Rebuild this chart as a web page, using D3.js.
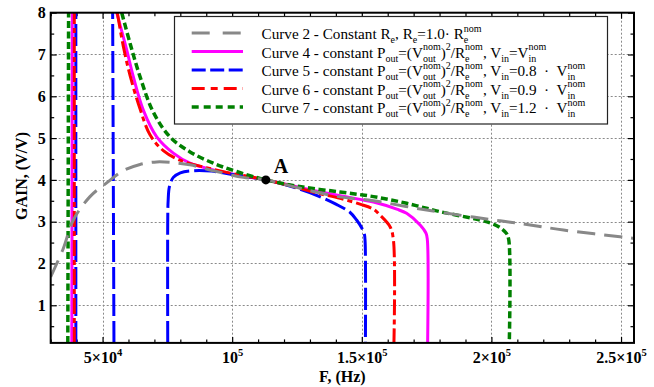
<!DOCTYPE html>
<html>
<head>
<meta charset="utf-8">
<script src="https://cdn.jsdelivr.net/npm/d3@7/dist/d3.min.js"></script>
<style>
  body { margin: 0; background: #fff; }
  svg { display: block; }
  text { font-family: "Liberation Serif", "Times New Roman", serif; fill: #000; }
</style>
</head>
<body>
<svg id="chart" width="654" height="387"></svg>
<script>
// ---- axis ticks ----
const xMajor = [50000, 100000, 150000, 200000, 250000];
const xTickBase = ["5×10", "10", "1.5×10", "2×10", "2.5×10"];
const xTickExp = ["4", "5", "5", "5", "5"];
const yMajor = [1, 2, 3, 4, 5, 6, 7, 8];

// ---- curves: [frequency (Hz), gain (V/V)] ----
// Curve 2: constant Re
const curve2 = [[30000,1.68],[34860,2.36],[38720,3.04],[45160,3.60],[51600,3.93],[58000,4.22],
  [64450,4.37],[70900,4.43],[76000,4.42],[83700,4.36],[94000,4.20],[104300,4.06],[113000,4.00],
  [126200,3.80],[141000,3.60],[154500,3.50],[173800,3.29],[193000,3.11],[203300,3.02],
  [211000,2.96],[227800,2.80],[255000,2.60]];
// Curve 4: Vin = Vin_nom
const curve4Low = [[38150,0.1],[38330,8.0]];
const curve4High = [[55460,8.0],[59320,7.11],[61870,6.47],[65730,5.67],[70900,5.03],[77300,4.64],
  [83740,4.40],[92730,4.24],[101750,4.12],[113000,4.00],[126000,3.82],[141700,3.62],[154500,3.47],
  [163500,3.30],[167300,3.20],[172500,2.92],[174800,2.72],[175300,2.56],[175400,0.1]];
// Curve 5: Vin = 0.8 Vin_nom
const curve5Low = [[39700,0.1],[39700,8.0]];
const curve5Mid = [[54400,0.1],[53900,8.0]];
const curve5High = [[75140,0.1],[75140,3.0],[75300,3.5],[75800,3.84],[77300,4.06],[80000,4.17],
  [85000,4.22],[92000,4.21],[100000,4.13],[107000,4.06],[113000,4.00],[126000,3.78],[133000,3.62],
  [140000,3.42],[145500,3.22],[148000,3.04],[150000,2.85],[151000,2.70],[151300,2.5],[151400,0.1]];
// Curve 6: Vin = 0.9 Vin_nom
const curve6Low = [[39100,0.1],[39100,8.0]];
const curve6High = [[55700,8.0],[58000,7.2],[60600,6.5],[64450,5.7],[68300,5.08],[73440,4.70],
  [79880,4.47],[87600,4.33],[97900,4.18],[113000,4.00],[126000,3.80],[133000,3.68],[141600,3.56],
  [149300,3.42],[154500,3.30],[157000,3.16],[160900,2.88],[162200,2.56],[162400,0.1]];
// Curve 7: Vin = 1.2 Vin_nom
const curve7Low = [[36600,0.1],[36900,8.0]];
const curve7High = [[57400,8.0],[60600,7.27],[64450,6.47],[69580,5.62],[76000,5.03],[83740,4.67],
  [92700,4.40],[101750,4.20],[113000,4.00],[126000,3.84],[141600,3.71],[154500,3.60],[167300,3.44],
  [180200,3.24],[195600,3.04],[200000,2.96],[203300,2.86],[205800,2.72],[206700,2.56],[206900,0.1]];
// Operating point A
const pointA = [113000, 4.0];

const padL = 50.7, padR = 634, padT = 12.7, padB = 342.9;

const svg = d3.select("#chart");
const x = d3.scaleLinear().domain([30000, 255000]).range([padL, padR]);
const y = d3.scaleLinear().domain([0.1, 8]).range([padB, padT]);

const xMinor = d3.range(30000, 255001, 10000).filter(v => !xMajor.includes(v));
const yMinor = d3.range(0.5, 8, 1);

// grid
const grid = svg.append("g").attr("stroke", "#8a8a8a").attr("stroke-width", 1).attr("stroke-dasharray", "2,2");
grid.selectAll(".gx").data(xMajor).join("line")
  .attr("x1", d => Math.round(x(d)) + 0.5).attr("x2", d => Math.round(x(d)) + 0.5)
  .attr("y1", padT).attr("y2", padB);
grid.selectAll(".gy").data(yMajor.filter(v => v < 8)).join("line")
  .attr("y1", d => Math.round(y(d)) + 0.5).attr("y2", d => Math.round(y(d)) + 0.5)
  .attr("x1", padL).attr("x2", padR);

// axes (ticks point inward)
function styleAxis(g) {
  g.select(".domain").remove();
  g.selectAll(".tick line").attr("stroke", "#000").attr("stroke-width", 1.2);
}
const axB = svg.append("g").attr("transform", `translate(0,${padB})`)
  .call(d3.axisBottom(x).tickValues(xMajor).tickSize(-6).tickPadding(9).tickFormat(""))
  .call(styleAxis);
axB.selectAll(".tick text").each(function(d, i) {
  const t = d3.select(this).attr("font-size", 16).attr("font-weight", "bold")
    .attr("font-family", "Liberation Serif, serif");
  t.append("tspan").text(xTickBase[i]);
  t.append("tspan").attr("font-size", 10.5).attr("dy", -7).text(xTickExp[i]);
});
svg.append("g").attr("transform", `translate(0,${padB})`)
  .call(d3.axisBottom(x).tickValues(xMinor).tickSize(-3.5).tickFormat("")).call(styleAxis);
svg.append("g").attr("transform", `translate(0,${padT})`)
  .call(d3.axisTop(x).tickValues(xMajor).tickSize(-6).tickFormat("")).call(styleAxis);
svg.append("g").attr("transform", `translate(0,${padT})`)
  .call(d3.axisTop(x).tickValues(xMinor).tickSize(-3.5).tickFormat("")).call(styleAxis);

svg.append("g").attr("transform", `translate(${padL},0)`)
  .call(d3.axisLeft(y).tickValues(yMajor).tickSize(-6).tickPadding(5).tickFormat(d3.format("d")))
  .call(styleAxis)
  .call(g => g.selectAll(".tick text").attr("font-size", 16).attr("font-weight", "bold")
    .attr("font-family", "Liberation Serif, serif"));
svg.append("g").attr("transform", `translate(${padL},0)`)
  .call(d3.axisLeft(y).tickValues(yMinor).tickSize(-3.5).tickFormat("")).call(styleAxis);
svg.append("g").attr("transform", `translate(${padR},0)`)
  .call(d3.axisRight(y).tickValues(yMajor).tickSize(-6).tickFormat("")).call(styleAxis);
svg.append("g").attr("transform", `translate(${padR},0)`)
  .call(d3.axisRight(y).tickValues(yMinor).tickSize(-3.5).tickFormat("")).call(styleAxis);

// axis titles
svg.append("text").attr("x", (padL + padR) / 2).attr("y", 382)
  .attr("text-anchor", "middle").attr("font-size", 16).attr("font-weight", "bold").text("F, (Hz)");
svg.append("text").attr("transform", `translate(27,176) rotate(-90)`)
  .attr("text-anchor", "middle").attr("font-size", 16).attr("font-weight", "bold").text("GAIN, (V/V)");

// curves
svg.append("clipPath").attr("id", "plotClip").append("rect")
  .attr("x", padL).attr("y", padT).attr("width", padR - padL).attr("height", padB - padT);
const line = d3.line().x(d => x(d[0])).y(d => y(d[1])).curve(d3.curveCatmullRom.alpha(0.5));
const styles = {
  c2: { color: "#888888", width: 3, dash: "18,9", legendDash: "18,13" },
  c4: { color: "#ff00ff", width: 3, dash: null, legendDash: null },
  c5: { color: "#0000ff", width: 3, dash: "22,5", legendDash: "14,4.5" },
  c6: { color: "#ff0000", width: 3, dash: "16,4,5,4", legendDash: "13,6,7,6" },
  c7: { color: "#008000", width: 3.5, dash: "7,3.5", legendDash: "7,5" }
};
const series = [
  { key: "c4", data: curve4Low }, { key: "c4", data: curve4High },
  { key: "c5", data: curve5Low }, { key: "c5", data: curve5Mid }, { key: "c5", data: curve5High },
  { key: "c6", data: curve6Low }, { key: "c6", data: curve6High },
  { key: "c7", data: curve7Low }, { key: "c7", data: curve7High },
  { key: "c2", data: curve2 }
];
const plot = svg.append("g").attr("clip-path", "url(#plotClip)");
plot.selectAll("path").data(series).join("path")
  .attr("d", d => line(d.data))
  .attr("fill", "none")
  .attr("stroke", d => styles[d.key].color)
  .attr("stroke-width", d => styles[d.key].width)
  .attr("stroke-dasharray", d => styles[d.key].dash);

// frame
svg.append("rect").attr("x", padL).attr("y", padT).attr("width", padR - padL).attr("height", padB - padT)
  .attr("fill", "none").attr("stroke", "#000").attr("stroke-width", 2);

// point A
svg.append("circle").attr("cx", x(pointA[0])).attr("cy", y(pointA[1])).attr("r", 4.5).attr("fill", "#000");
svg.append("text").attr("x", x(pointA[0]) + 8).attr("y", y(pointA[1]) - 7)
  .attr("font-size", 20).attr("font-weight", "bold").text("A");

// legend
const legendKeys = ["c2", "c4", "c5", "c6", "c7"];
const legendText = [
  [["n","Curve 2 - Constant R"],["sub","e"],["n",", R"],["sub","e"],["n","=1.0· R"],["both","nom","e"]],
  [["n","Curve 4 - constant P"],["sub","out"],["n","=(V"],["both","nom","out"],["n",")"],["sup","2"],["n","/R"],["both","nom","e"],["n",", V"],["sub","in"],["n","=V"],["both","nom","in"]],
  [["n","Curve 5 - constant P"],["sub","out"],["n","=(V"],["both","nom","out"],["n",")"],["sup","2"],["n","/R"],["both","nom","e"],["n",", V"],["sub","in"],["n","=0.8  ·  V"],["both","nom","in"]],
  [["n","Curve 6 - constant P"],["sub","out"],["n","=(V"],["both","nom","out"],["n",")"],["sup","2"],["n","/R"],["both","nom","e"],["n",", V"],["sub","in"],["n","=0.9  ·  V"],["both","nom","in"]],
  [["n","Curve 7 - constant P"],["sub","out"],["n","=(V"],["both","nom","out"],["n",")"],["sup","2"],["n","/R"],["both","nom","e"],["n",", V"],["sub","in"],["n","=1.2  ·  V"],["both","nom","in"]]
];
const lg = svg.append("g");
lg.append("rect").attr("x", 174.5).attr("y", 16.5).attr("width", 433).attr("height", 107.5)
  .attr("fill", "#fff").attr("stroke", "#222").attr("stroke-width", 1.2);
const rowY = [33, 51.5, 70, 88.5, 107];
const mainSize = 15.2, scriptSize = 10;
const supShift = -7.5, subShift = 4;
legendKeys.forEach((k, i) => {
  const s = styles[k];
  lg.append("line").attr("x1", 191.7).attr("x2", 243).attr("y1", rowY[i]).attr("y2", rowY[i])
    .attr("stroke", s.color).attr("stroke-width", s.width).attr("stroke-dasharray", s.legendDash);
  // one text element per row; each run is a tspan placed at an explicit x/y
  const row = lg.append("text").style("white-space", "pre");
  let cx = 261.5;
  const base = rowY[i] + 6;
  const put = (txt, size, dy) => {
    const t = row.append("tspan").attr("x", cx).attr("y", base + dy).attr("font-size", size).text(txt);
    return t.node().getComputedTextLength();
  };
  legendText[i].forEach(seg => {
    if (seg[0] === "n") cx += put(seg[1], mainSize, 0);
    else if (seg[0] === "sub") cx += put(seg[1], scriptSize, subShift);
    else if (seg[0] === "sup") cx += put(seg[1], scriptSize, supShift);
    else {
      const w1 = put(seg[1], scriptSize, supShift);
      const w2 = put(seg[2], scriptSize, subShift);
      cx += Math.max(w1, w2);
    }
  });
});
</script>
</body>
</html>
